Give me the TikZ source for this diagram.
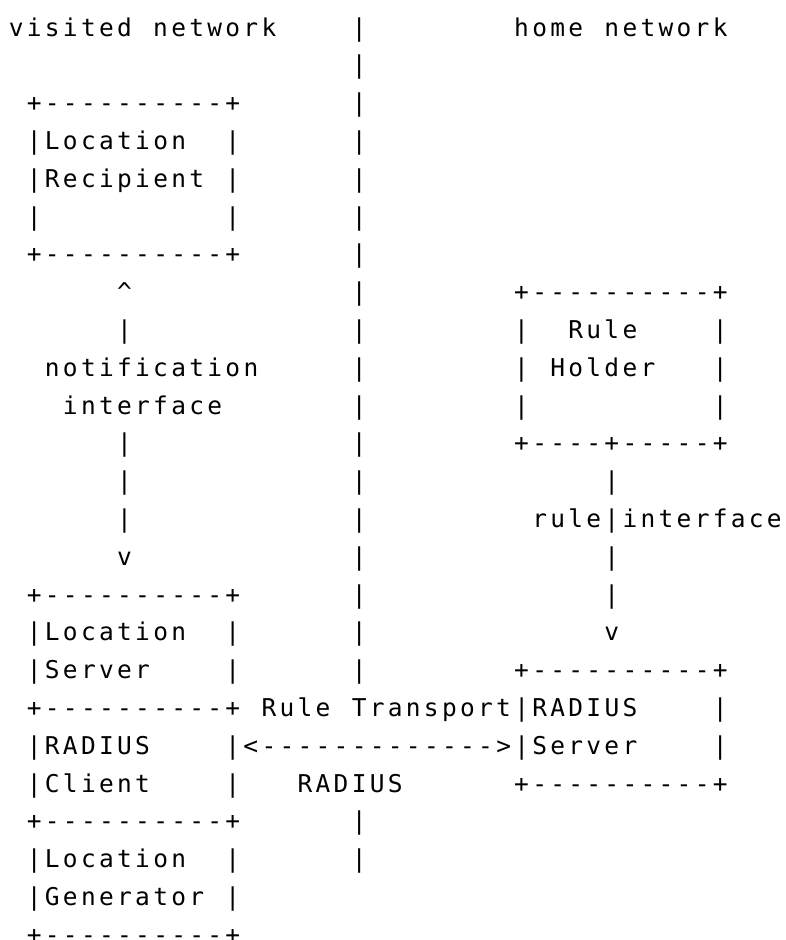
\documentclass[tikz,border=0pt]{standalone}
\usepackage{fontspec}
\newfontfamily\asciifont[LetterSpace=13.5,Ligatures=TeXOff]{DejaVu Sans Mono}
\newlength{\chsize}
\setlength{\chsize}{24.5pt}

\begin{document}
\begin{tikzpicture}[x=18.05pt,y=-37.8pt,
  asc/.style={font=\asciifont\fontsize{\chsize}{\chsize}\selectfont,inner sep=0pt,anchor=base west}]
            \useasboundingbox (-8.63pt,36pt) rectangle (776.37pt,-904pt);
            \fill[white] (-8.63pt,36pt) rectangle (776.37pt,-904pt);
            \node[asc] (visited) at (0,0) {visited};
            \node[asc] (visitednet) at (8,0) {network};
            \node[asc] (home) at (28,0) {home};
            \node[asc] (homenet) at (33,0) {network};
            \foreach \r in {0,...,17,21,22}
              \node[asc] (border\r) at (19,\r) {|};
            \node[asc] (recip0) at (1,2) {+----------+};
            \node[asc] (recip1) at (1,3) {|Location};
            \node[asc] (recip1r) at (12,3) {|};
            \node[asc] (recip2) at (1,4) {|Recipient};
            \node[asc] (recip2r) at (12,4) {|};
            \node[asc] (recip3) at (1,5) {|};
            \node[asc] (recip3r) at (12,5) {|};
            \node[asc] (recip4) at (1,6) {+----------+};
            \node[asc] (notif0) at (6,7) {\textasciicircum};
            \node[asc] (notif1) at (6,8) {|};
            \node[asc] (notif2) at (2,9) {notification};
            \node[asc] (notif3) at (3,10) {interface};
            \node[asc] (notif4) at (6,11) {|};
            \node[asc] (notif5) at (6,12) {|};
            \node[asc] (notif6) at (6,13) {|};
            \node[asc] (notif7) at (6,14) {v};
            \node[asc] (ls0) at (1,15) {+----------+};
            \node[asc] (ls1) at (1,16) {|Location};
            \node[asc] (ls1r) at (12,16) {|};
            \node[asc] (ls2) at (1,17) {|Server};
            \node[asc] (ls2r) at (12,17) {|};
            \node[asc] (ls3) at (1,18) {+----------+};
            \node[asc] (rc1) at (1,19) {|RADIUS};
            \node[asc] (rc1r) at (12,19) {|<------------->|};
            \node[asc] (rc2) at (1,20) {|Client};
            \node[asc] (rc2r) at (12,20) {|};
            \node[asc] (rc3) at (1,21) {+----------+};
            \node[asc] (lg1) at (1,22) {|Location};
            \node[asc] (lg1r) at (12,22) {|};
            \node[asc] (lg2) at (1,23) {|Generator};
            \node[asc] (lg2r) at (12,23) {|};
            \node[asc] (lg3) at (1,24) {+----------+};
            \node[asc] (transp0) at (14,18) {Rule};
            \node[asc] (transp1) at (19,18) {Transport|RADIUS};
            \node[asc] (radius) at (16,20) {RADIUS};
            \node[asc] (holder0) at (28,7) {+----------+};
            \node[asc] (holder1) at (28,8) {|};
            \node[asc] (holder1t) at (31,8) {Rule};
            \node[asc] (holder1r) at (39,8) {|};
            \node[asc] (holder2) at (28,9) {|};
            \node[asc] (holder2t) at (30,9) {Holder};
            \node[asc] (holder2r) at (39,9) {|};
            \node[asc] (holder3) at (28,10) {|};
            \node[asc] (holder3r) at (39,10) {|};
            \node[asc] (holder4) at (28,11) {+----+-----+};
            \node[asc] (rule0) at (33,12) {|};
            \node[asc] (rule1) at (29,13) {rule|interface};
            \node[asc] (rule2) at (33,14) {|};
            \node[asc] (rule3) at (33,15) {|};
            \node[asc] (rule4) at (33,16) {v};
            \node[asc] (rs0) at (28,17) {+----------+};
            \node[asc] (rs1r) at (39,18) {|};
            \node[asc] (rs2) at (29,19) {Server};
            \node[asc] (rs2r) at (39,19) {|};
            \node[asc] (rs3) at (28,20) {+----------+};
             \end{tikzpicture}
\end{document}
